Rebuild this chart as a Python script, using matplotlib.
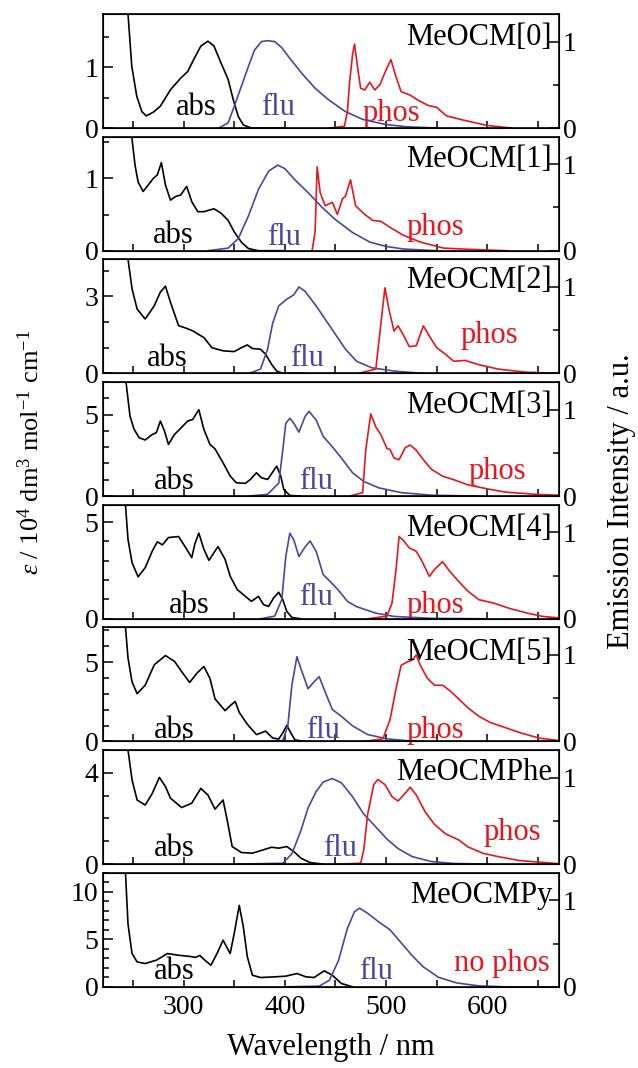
import numpy as np
import matplotlib
matplotlib.use('Agg')
import matplotlib.pyplot as plt
from matplotlib.ticker import MultipleLocator

plt.rcParams['font.family'] = 'Liberation Serif'
plt.rcParams['mathtext.fontset'] = 'custom'
plt.rcParams['mathtext.rm'] = 'Liberation Serif'
plt.rcParams['mathtext.it'] = 'Liberation Serif:italic'

# panel names
names = ['MeOCM[0]', 'MeOCM[1]', 'MeOCM[2]', 'MeOCM[3]', 'MeOCM[4]', 'MeOCM[5]',
         'MeOCMPhe', 'MeOCMPy']

# absorption (nm, eps / 1e4)
abs0 = [(240, 4.0), (245, 1.88), (248.7, 1.02), (253.7, 0.52), (258.7, 0.27), (263, 0.2), (270, 0.26),
        (277, 0.36), (287, 0.63), (297, 0.82), (304, 0.93), (310, 1.13), (317, 1.35), (324, 1.43),
        (330, 1.35), (337, 1.07), (344, 0.8), (349, 0.47), (354, 0.19), (359, 0.05), (367, 0.0), (400, 0.0)]
abs1 = [(244, 4.0), (248.7, 1.58), (252, 1.18), (255, 0.95), (260, 0.82), (265, 0.91), (270, 1.0),
        (274, 1.05), (278, 1.22), (282, 0.91), (287, 0.7), (292, 0.75), (297, 0.77), (303, 0.89),
        (308, 0.68), (314, 0.54), (320, 0.54), (330, 0.58), (337, 0.52), (344, 0.42), (350, 0.26),
        (357, 0.12), (364, 0.03), (374, 0), (400, 0)]
abs2 = [(241, 10), (245, 4.45), (249, 3.3), (254, 2.51), (262, 2.12), (271, 2.64), (277, 3.17), (282, 3.4),
        (287, 2.77), (295, 1.86), (302, 1.77), (309, 1.66), (316, 1.49), (320, 1.4), (328, 1.0), (339, 0.88),
        (350, 0.85), (357, 1.0), (363, 1.11), (368, 0.97), (376, 0.94), (381, 0.75), (387, 0.35),
        (392, 0.09), (398, 0), (420, 0)]
abs3 = [(240, 10), (243, 7), (247, 4.9), (251, 4.1), (256, 3.58), (262, 3.44), (269, 3.78), (273, 3.89),
        (277, 4.6), (281, 4.0), (285, 3.17), (291, 3.78), (296, 4.09), (304, 4.6), (309, 4.7), (315, 5.3),
        (320, 4.09), (326, 3.17), (331, 2.9), (339, 2.04), (346, 1.23), (352, 0.82), (361, 0.78),
        (366, 1.02), (372, 1.43), (377, 1.12), (383, 1.02), (388, 1.47), (392, 1.84), (396, 1.23),
        (399, 0.41), (405, 0.04), (416, 0)]
abs4 = [(240, 10), (242.5, 5.9), (245, 4.1), (249, 2.9), (255, 2.17), (262, 2.64), (269, 3.5), (274, 3.98),
        (279, 3.82), (285, 4.2), (295, 4.25), (302, 3.68), (308, 3.16), (311, 3.85), (315, 4.43), (320, 3.6),
        (325, 3.02), (330, 3.42), (334, 3.73), (341, 3.07), (346, 2.2), (353, 1.51), (361, 1.16), (367, 0.9),
        (374, 1.16), (379, 0.73), (384, 0.64), (389, 1.08), (394, 1.37), (398, 0.99), (402, 0.38),
        (407, 0.07), (416, 0)]
abs5 = [(240, 10), (242.5, 7.2), (245, 5.27), (249, 3.76), (254, 3.01), (262, 3.55), (271, 4.84),
        (282, 5.42), (291, 5.05), (298, 4.41), (306, 3.72), (313, 4.3), (320, 4.73), (326, 3.98),
        (331, 2.69), (341, 1.94), (346, 2.26), (351, 2.52), (355, 1.83), (363, 1.08), (372, 0.43),
        (381, 0.65), (388, 0.22), (394, 0.15), (398, 0.54), (402, 1.01), (406, 0.54), (410, 0.1), (420, 0)]
abs6 = [(241, 10), (245, 5), (249, 3.69), (254, 2.81), (262, 2.59), (269, 3.1), (276, 3.8), (282, 3.4),
        (287, 2.89), (298, 2.48), (308, 2.67), (317, 3.32), (324, 3.03), (331, 2.41), (339, 2.81),
        (343, 1.94), (348, 0.77), (357, 0.51), (368, 0.48), (379, 0.63), (387, 0.74), (394, 0.7),
        (402, 0.77), (409, 0.55), (416, 0.26), (425, 0.07), (438, 0)]
abs7 = [(240, 20), (242.5, 12), (245, 6.6), (249, 3.5), (254, 2.62), (262, 2.45), (273, 2.8), (284, 3.5),
        (295, 3.32), (306, 3.2), (312, 3.1), (316, 3.3), (321, 2.8), (327, 2.27), (333, 3.5), (339, 4.9),
        (346, 3.5), (350, 5.6), (355, 8.57), (359, 6.3), (363, 3.15), (368, 1.22), (376, 0.98), (390, 1.05),
        (401, 1.12), (412, 1.4), (421, 1.05), (429, 0.98), (439, 1.68), (447, 1.22), (456, 0.35), (467, 0)]

# fluorescence (nm, normalised)
flu0 = [(335, 0), (344, 0.06), (350, 0.25), (357, 0.48), (364, 0.71), (370, 0.9), (377, 1.0), (383, 1.01),
        (390, 1.0), (397, 0.93), (404, 0.82), (417, 0.63), (430, 0.46), (444, 0.32), (460, 0.19),
        (477, 0.1), (500, 0.04), (520, 0.015), (550, 0.0)]
flu1 = [(324, 0), (344, 0.03), (354, 0.14), (364, 0.4), (374, 0.71), (384, 0.92), (393, 0.99), (400, 0.95),
        (410, 0.82), (424, 0.66), (437, 0.5), (450, 0.36), (467, 0.21), (484, 0.1), (500, 0.05),
        (517, 0.02), (550, 0)]
flu2 = [(365, 0), (376, 0.05), (383, 0.28), (388, 0.58), (394, 0.78), (401, 0.85), (409, 0.91), (414, 1.0),
        (420, 0.95), (431, 0.78), (438, 0.66), (449, 0.47), (460, 0.28), (471, 0.14), (486, 0.065),
        (508, 0.027), (537, 0)]
flu3 = [(365, 0), (383, 0.02), (394, 0.15), (398, 0.53), (401, 0.84), (405, 0.9), (409, 0.84), (414, 0.74),
        (420, 0.92), (424, 0.98), (431, 0.88), (438, 0.69), (447, 0.57), (456, 0.44), (467, 0.27),
        (478, 0.17), (493, 0.095), (515, 0.04), (545, 0.01), (592, 0)]
flu4 = [(376, 0), (390, 0.03), (397, 0.22), (401, 0.72), (405, 0.99), (409, 0.91), (414, 0.72), (420, 0.83),
        (425, 0.9), (431, 0.78), (438, 0.51), (445, 0.43), (453, 0.33), (462, 0.2), (471, 0.14),
        (490, 0.065), (508, 0.027), (545, 0.005), (600, 0)]
flu5 = [(387, 0), (398, 0.01), (403, 0.18), (407, 0.65), (412, 0.98), (416, 0.84), (423, 0.61), (429, 0.69),
        (434, 0.75), (440, 0.57), (447, 0.37), (456, 0.29), (467, 0.18), (482, 0.08), (501, 0.03), (530, 0)]
flu6 = [(352, 0), (398, 0.01), (407, 0.12), (416, 0.39), (423, 0.65), (431, 0.84), (438, 0.95), (447, 0.99),
        (456, 0.94), (467, 0.78), (478, 0.58), (490, 0.43), (501, 0.29), (512, 0.18), (526, 0.087),
        (545, 0.03), (567, 0.008), (600, 0)]
flu7 = [(401, 0), (434, 0.008), (444, 0.075), (453, 0.3), (462, 0.68), (469, 0.87), (474, 0.91), (482, 0.85),
        (493, 0.75), (504, 0.66), (515, 0.51), (526, 0.36), (537, 0.23), (552, 0.11), (570, 0.045),
        (592, 0.011), (618, 0), (671, 0)]

# phosphorescence (nm, normalised); MeOCMPy has none
phos0 = [(444, 0), (459, 0.02), (462, 0.2), (464, 0.52), (467, 0.85), (469, 0.97), (472, 0.7), (475, 0.46),
         (479, 0.44), (484, 0.53), (489, 0.44), (494, 0.5), (500, 0.67), (505, 0.79), (510, 0.59),
         (515, 0.42), (524, 0.38), (532, 0.32), (542, 0.26), (550, 0.24), (560, 0.14), (577, 0.09),
         (600, 0.03), (624, 0)]
phos1 = [(427, 0), (430, 0.22), (432, 0.97), (435, 0.67), (440, 0.52), (447, 0.56), (452, 0.42), (457, 0.6),
         (460, 0.63), (465, 0.82), (470, 0.52), (479, 0.42), (487, 0.35), (495, 0.34), (504, 0.27),
         (517, 0.18), (534, 0.1), (557, 0.03), (584, 0.015), (620, 0)]
phos2 = [(473, 0), (490, 0.05), (494, 0.47), (499, 0.99), (503, 0.74), (508, 0.49), (512, 0.55), (517, 0.45),
         (523, 0.31), (530, 0.32), (537, 0.55), (543, 0.43), (550, 0.3), (559, 0.22), (567, 0.14),
         (578, 0.15), (592, 0.1), (611, 0.05), (637, 0.015), (671, 0)]
phos3 = [(464, 0), (477, 0.04), (480, 0.53), (485, 0.95), (490, 0.8), (495, 0.71), (501, 0.55), (504, 0.54),
         (508, 0.44), (513, 0.42), (519, 0.56), (524, 0.59), (530, 0.53), (537, 0.42), (545, 0.31),
         (556, 0.23), (567, 0.19), (581, 0.13), (600, 0.084), (618, 0.046), (648, 0.02), (671, 0.01)]
phos4 = [(482, 0), (501, 0.03), (506, 0.18), (510, 0.57), (513, 0.95), (517, 0.91), (523, 0.82), (530, 0.78),
         (535, 0.68), (543, 0.49), (548, 0.57), (556, 0.66), (563, 0.55), (572, 0.43), (581, 0.32),
         (592, 0.22), (607, 0.18), (622, 0.12), (640, 0.065), (655, 0.027), (671, 0.01)]
phos5 = [(478, 0), (497, 0.03), (504, 0.25), (510, 0.61), (515, 0.88), (521, 0.92), (526, 0.94), (530, 1.0),
         (534, 0.88), (541, 0.73), (548, 0.65), (556, 0.65), (563, 0.59), (572, 0.49), (581, 0.39),
         (592, 0.29), (603, 0.22), (618, 0.16), (633, 0.1), (651, 0.04), (671, 0.01)]
phos6 = [(453, 0), (475, 0.01), (478, 0.16), (482, 0.58), (488, 0.92), (492, 0.98), (499, 0.92), (506, 0.78),
         (512, 0.73), (519, 0.82), (524, 0.89), (530, 0.8), (539, 0.6), (548, 0.46), (559, 0.35),
         (572, 0.28), (581, 0.2), (596, 0.125), (611, 0.087), (633, 0.04), (655, 0.02), (671, 0.005)]
phos7 = None

abs_all = [abs0, abs1, abs2, abs3, abs4, abs5, abs6, abs7]
flu_all = [flu0, flu1, flu2, flu3, flu4, flu5, flu6, flu7]
phos_all = [phos0, phos1, phos2, phos3, phos4, phos5, phos6, phos7]

# left axis ranges / ticks
eps_max = [1.88, 1.58, 4.45, 7.0, 5.9, 7.2, 5.0, 12.0]
eps_major = [1, 1, 3, 5, 5, 5, 4, 5]
eps_minor = [0.5, 0.5, 1, 1, 1, 1, 1, 1]

# label positions in axes fraction: (x, y) for abs, flu, phos, name
lab_abs = [(0.206, 0.117), (0.155, 0.064), (0.142, 0.065), (0.157, 0.058), (0.19, 0.05), (0.157, 0.03),
           (0.157, 0.067), (0.157, 0.073)]
lab_flu = [(0.385, 0.117), (0.398, 0.05), (0.449, 0.065), (0.467, 0.058), (0.467, 0.124), (0.482, 0.03),
           (0.52, 0.067), (0.60, 0.073)]
lab_phos = [(0.633, 0.058), (0.73, 0.137), (0.847, 0.27), (0.865, 0.146), (0.73, 0.05), (0.73, 0.03),
            (0.898, 0.213), (0.876, 0.14)]
lab_name_y = [0.73, 0.737, 0.747, 0.73, 0.726, 0.716, 0.737, 0.737]

blue = '#4b46a0'
red = '#e8161e'
fs_tick = 20
fs_txt = 22

fig = plt.figure(figsize=(6.38, 10.68), dpi=100)
gs = fig.add_gridspec(8, 1, left=0.161, right=0.876, top=0.987, bottom=0.076, hspace=0.075)

for i in range(8):
    ax = fig.add_subplot(gs[i])
    ax2 = ax.twinx()

    a = np.array(abs_all[i])
    ax.plot(a[:, 0], a[:, 1], color='black', lw=1.2)
    f = np.array(flu_all[i])
    ax2.plot(f[:, 0], f[:, 1], color=blue, lw=1.2)
    if phos_all[i] is not None:
        p = np.array(phos_all[i])
        ax2.plot(p[:, 0], p[:, 1], color=red, lw=1.2)

    ax.set_xlim(220, 671)
    ax.set_ylim(0, eps_max[i])
    ax2.set_ylim(0, 1.32)

    ax.xaxis.set_major_locator(MultipleLocator(100))
    ax.xaxis.set_minor_locator(MultipleLocator(50))
    ax.yaxis.set_major_locator(MultipleLocator(eps_major[i]))
    ax.yaxis.set_minor_locator(MultipleLocator(eps_minor[i]))
    ax2.yaxis.set_major_locator(MultipleLocator(1))
    ax2.yaxis.set_minor_locator(MultipleLocator(0.5))

    ax.tick_params(axis='x', which='both', direction='in', length=5, width=1.1, top=False,
                   labelsize=fs_tick, pad=6)
    ax.tick_params(axis='y', which='major', direction='in', length=7, width=1.1, labelsize=fs_tick, pad=3)
    ax.tick_params(axis='y', which='minor', direction='in', length=4, width=1.1)
    ax2.tick_params(axis='y', which='major', direction='in', length=7, width=1.1, labelsize=fs_tick, pad=3)
    ax2.tick_params(axis='y', which='minor', direction='in', length=4, width=1.1)
    if i < 7:
        ax.tick_params(axis='x', labelbottom=False)

    for sp in ax2.spines.values():
        sp.set_linewidth(1.2)

    ax.text(lab_abs[i][0], lab_abs[i][1], 'abs', transform=ax.transAxes, ha='center', va='baseline',
            fontsize=fs_txt, color='black')
    ax.text(lab_flu[i][0], lab_flu[i][1], 'flu', transform=ax.transAxes, ha='center', va='baseline',
            fontsize=fs_txt, color=blue)
    ax.text(lab_phos[i][0], lab_phos[i][1], 'phos' if i < 7 else 'no phos', transform=ax.transAxes,
            ha='center', va='baseline', fontsize=fs_txt, color=red)
    ax2.text(0.985, lab_name_y[i], names[i], transform=ax.transAxes, ha='right', va='baseline',
             fontsize=fs_txt, color='black')

fig.text(0.5 * (0.161 + 0.876), 1 - 1048 / 1068, 'Wavelength / nm', ha='center', va='center', fontsize=fs_txt)
fig.text(31 / 638, 1 - 452 / 1068, r'$\varepsilon$ / 10$^4$ dm$^3$ mol$^{-1}$ cm$^{-1}$', rotation=90,
         ha='center', va='center', fontsize=19)
fig.text(622 / 638, 1 - 501 / 1068, 'Emission Intensity / a.u.', rotation=90, ha='center', va='center',
         fontsize=fs_txt)

fig.savefig('out.png', dpi=100)
